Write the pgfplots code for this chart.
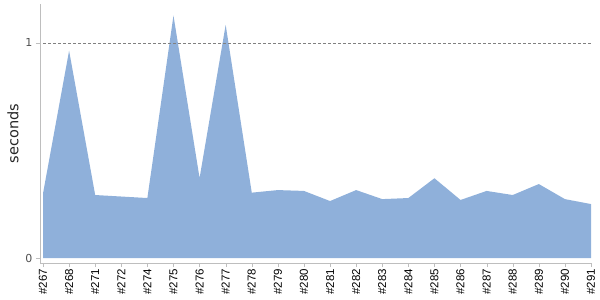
\documentclass[border=0pt]{standalone}
\usepackage{fontspec}
\setmainfont{DejaVu Sans}
\newfontfamily\xfont{Liberation Sans}
\usepackage{pgfplots}
\pgfplotsset{compat=1.18}
\definecolor{areafill}{RGB}{143,176,218}
\definecolor{axisgray}{RGB}{190,190,190}
\definecolor{labgray}{RGB}{80,80,80}
\begin{document}
\begin{tikzpicture}[x=1pt,y=1pt]
\begin{axis}[
  at={(0,0)}, anchor=south west,
  scale only axis, width=551pt, height=259pt,
  xmin=-0.115, xmax=21, ymin=-0.023, ymax=1.181,
  axis x line*=bottom, axis y line*=left,
  xtick={0,...,21},
  xticklabels={\#267,\#268,\#271,\#272,\#274,\#275,\#276,\#277,\#278,\#279,\#280,\#281,\#282,\#283,\#284,\#285,\#286,\#287,\#288,\#289,\#290,\#291},
  x tick label style={rotate=90, anchor=east, font=\xfont\fontsize{11.5}{11.5}\selectfont, inner sep=2pt},
  ytick={0,1},
  y tick label style={font=\fontsize{11}{11}\selectfont, color=labgray},
  /pgf/number format/assume math mode=true,
  tick align=outside, major tick length=4pt,
  axis line style={axisgray}, tick style={axisgray},
  ylabel={seconds},
  ylabel style={font=\fontsize{14.5}{14.5}\selectfont, color=black!85},
  clip=false,
]
\addplot[fill=areafill, draw=none] coordinates {
(0,0.300) (1,0.964) (2,0.293) (3,0.286) (4,0.279) (5,1.127) (6,0.372) (7,1.084)
(8,0.304) (9,0.316) (10,0.312) (11,0.265) (12,0.316) (13,0.274) (14,0.279)
(15,0.371) (16,0.270) (17,0.312) (18,0.293) (19,0.344) (20,0.274) (21,0.251)
} \closedcycle;
\addplot[densely dashed, gray, thin] coordinates {(0,1) (21,1)};
\end{axis}
\pgfresetboundingbox
\path (-40,-37) rectangle (560,263);
\end{tikzpicture}
\end{document}
